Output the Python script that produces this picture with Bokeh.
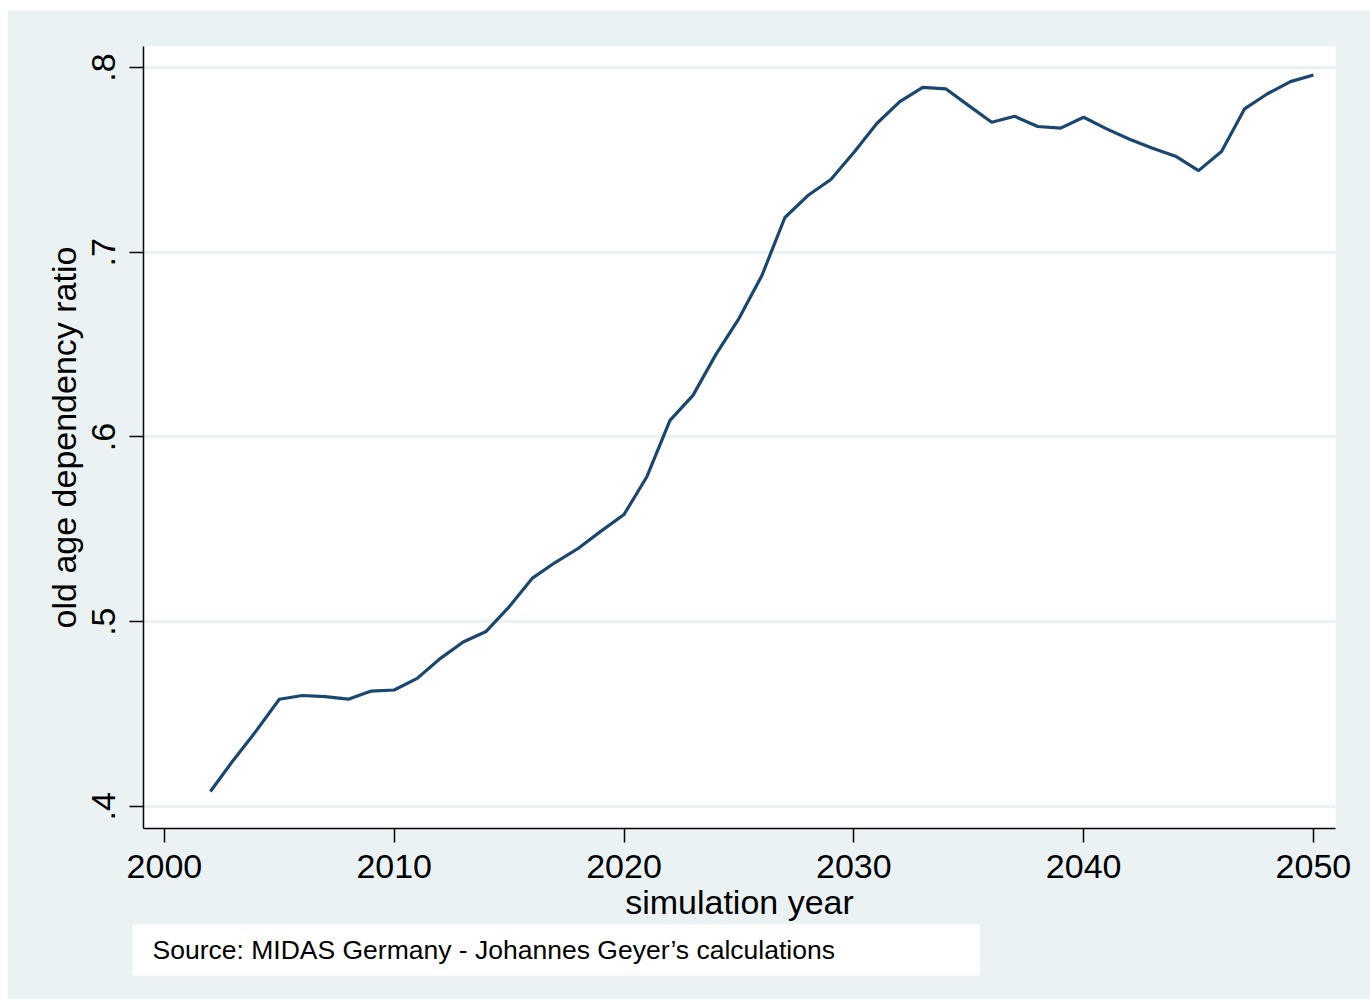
from bokeh.plotting import figure
from bokeh.models import Range1d, FixedTicker, Title
from bokeh.embed import file_html
from bokeh.resources import INLINE

years = list(range(2002, 2051))
ratio = [0.408, 0.425, 0.441, 0.458, 0.460, 0.4594, 0.458, 0.4624, 0.463, 0.4693,
         0.480, 0.489, 0.4947, 0.508, 0.5234, 0.532, 0.5396, 0.549, 0.558, 0.5786,
         0.609, 0.6225, 0.6447, 0.6641, 0.6874, 0.7188, 0.7307, 0.7394, 0.754, 0.7697,
         0.7816, 0.7893, 0.7885, 0.7794, 0.7704, 0.7736, 0.7681, 0.7672, 0.7731, 0.7668,
         0.7612, 0.7563, 0.752, 0.7442, 0.7545, 0.7776, 0.7858, 0.7924, 0.796]
x_ticks = [2000, 2010, 2020, 2030, 2040, 2050]
y_ticks = [0.4, 0.5, 0.6, 0.7, 0.8]
y_tick_labels = [".4", ".5", ".6", ".7", ".8"]
x_title = "simulation year"
y_title = "old age dependency ratio"
note = "Source: MIDAS Germany - Johannes Geyer\u2019s calculations"

BG = "#EAF2F3"
LINE = "#1a476f"
FONT = "Liberation Sans"

p = figure(width=1363, height=989, output_backend="svg", toolbar_location=None,
           x_range=Range1d(1999.09, 2050.96), y_range=Range1d(0.388, 0.8114),
           min_border_left=136, min_border_top=36, min_border_right=35, min_border_bottom=171)
p.margin = (10, 0, 0, 7)
p.border_fill_color = BG
p.background_fill_color = "white"
p.outline_line_color = None

p.line(years, ratio, line_color=LINE, line_width=3.2)

p.xgrid.visible = False
p.ygrid.grid_line_color = BG
p.ygrid.grid_line_width = 3
p.ygrid.ticker = FixedTicker(ticks=y_ticks)

for ax in (p.xaxis[0], p.yaxis[0]):
    ax.axis_line_color = "black"
    ax.axis_line_width = 1.5
    ax.major_tick_line_color = "black"
    ax.major_tick_line_width = 1.5
    ax.major_tick_out = 14
    ax.major_tick_in = 0
    ax.minor_tick_line_color = None
    ax.major_label_text_font = FONT
    ax.major_label_text_font_size = "34px"
    ax.major_label_text_color = "black"
    ax.axis_label_text_font = FONT
    ax.axis_label_text_font_size = "34px"
    ax.axis_label_text_font_style = "normal"
    ax.axis_label_text_color = "black"

p.xaxis.ticker = FixedTicker(ticks=x_ticks)
p.yaxis.ticker = FixedTicker(ticks=y_ticks)
p.yaxis.major_label_overrides = {t: l for t, l in zip(y_ticks, y_tick_labels)}
p.yaxis.major_label_orientation = "vertical"
p.xaxis.axis_label = x_title
p.yaxis.axis_label = y_title
p.xaxis.major_label_standoff = 12
p.yaxis.major_label_standoff = 14
p.xaxis.axis_label_standoff = 2
p.yaxis.axis_label_standoff = 7

# note box below the plot (white box with source text)
p.add_layout(Title(text=note, align="left", offset=-11, standoff=-2,
                   text_font=FONT, text_font_size="26.5px", text_font_style="normal",
                   text_color="black", background_fill_color="white",
                   padding=dict(left=20, right=145, top=10, bottom=11)), "below")

open("out.html", "w").write(file_html(p, INLINE))
